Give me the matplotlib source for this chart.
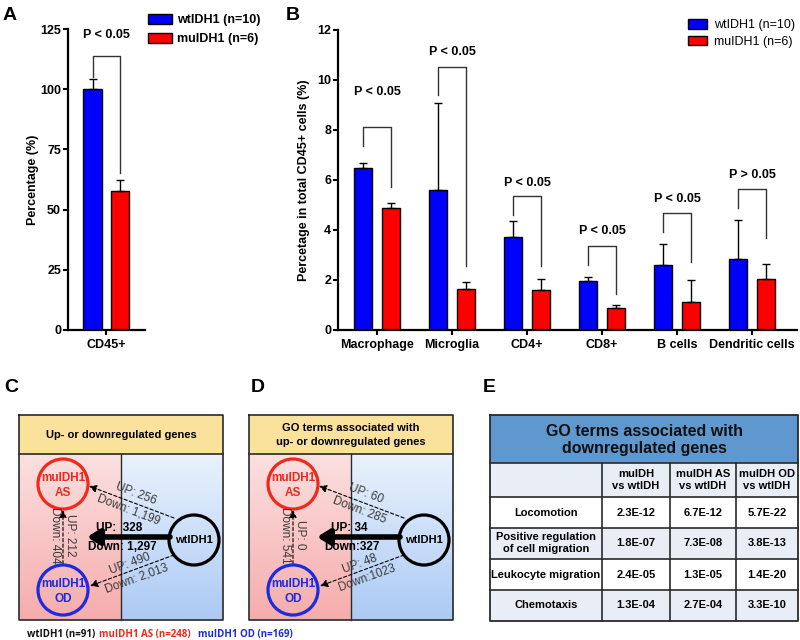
import numpy as np
import matplotlib.pyplot as plt
from matplotlib.patches import Rectangle, Circle, Patch

plt.rcParams['font.family'] = ['Liberation Sans', 'DejaVu Sans']
plt.rcParams['font.weight'] = 'bold'
plt.rcParams['axes.labelweight'] = 'bold'

BLUE = '#0000ff'
RED = '#ff0000'
GREY = '#333333'

# ---------------------------------------------------------------------------
# data
# ---------------------------------------------------------------------------
groups = ['wtIDH1 (n=10)', 'muIDH1 (n=6)']

# panel A: CD45+ percentage
a_mean = [100.0, 57.9]
a_err = [4.2, 4.3]
a_pval = 'P < 0.05'
a_bracket = [113.9, 105.0, 65.1, 122.6]      # top, left leg end, right leg end, text

# panel B: immune cell fractions
b_cells = ['Macrophage', 'Microglia', 'CD4+', 'CD8+', 'B cells', 'Dendritic cells']
b_wt = [6.47, 5.60, 3.73, 1.95, 2.59, 2.83]
b_wt_err = [0.22, 3.47, 0.62, 0.18, 0.84, 1.56]
b_mu = [4.88, 1.66, 1.61, 0.89, 1.13, 2.06]
b_mu_err = [0.19, 0.27, 0.42, 0.13, 0.86, 0.58]
b_pvals = ['P < 0.05', 'P < 0.05', 'P < 0.05', 'P < 0.05', 'P < 0.05', 'P > 0.05']
b_br_top = [8.11, 10.53, 5.36, 3.36, 4.69, 5.65]
b_br_left = [7.36, 9.40, 4.62, 2.60, 3.93, 4.89]
b_br_right = [5.73, 2.56, 2.56, 1.43, 2.74, 3.67]
b_txt = [9.53, 11.13, 5.86, 3.96, 5.26, 6.22]

# panels C / D: comparison diagrams (wt->AS, wt->mu, wt->OD, OD->AS)
c_header = ['Up- or downregulated genes']
c_labels = [('UP: 256', 'Down: 1,199'), ('UP:  328', 'Down: 1,297'),
            ('UP: 490', 'Down: 2,013'), ('UP: 212', 'Down: 404')]
d_header = ['GO terms associated with', 'up- or downregulated genes']
d_labels = [('UP: 60', 'Down: 285'), ('UP: 34', 'Down:327'),
            ('UP: 48', 'Down:1023'), ('UP: 0', 'Down: 541')]
cohorts = ['wtIDH1 (n=91)', 'muIDH1 AS (n=248)', 'muIDH1 OD (n=169)']

# panel E: GO term table
e_title = ['GO terms associated with', 'downregulated genes']
e_cols = ['muIDH\nvs wtIDH', 'muIDH AS\nvs wtIDH', 'muIDH OD\nvs wtIDH']
e_terms = ['Locomotion', 'Positive regulation\nof cell migration',
           'Leukocyte migration', 'Chemotaxis']
e_vals = [['2.3E-12', '6.7E-12', '5.7E-22'],
          ['1.8E-07', '7.3E-08', '3.8E-13'],
          ['2.4E-05', '1.3E-05', '1.4E-20'],
          ['1.3E-04', '2.7E-04', '3.3E-10']]

# ---------------------------------------------------------------------------
W, H = 800, 640
fig = plt.figure(figsize=(8, 6.4), dpi=100)


def px_axes(left, top, right, bottom):
    return fig.add_axes([left / W, 1 - bottom / H, (right - left) / W, (bottom - top) / H])


# overlay in pixel coordinates for letters and diagrams
ov = fig.add_axes([0, 0, 1, 1])
ov.set_xlim(0, W)
ov.set_ylim(H, 0)
ov.axis('off')


def style_axes(ax):
    for s in ['top', 'right']:
        ax.spines[s].set_visible(False)
    for s in ['left', 'bottom']:
        ax.spines[s].set_linewidth(1.6)
    ax.tick_params(direction='out', length=3.5, width=1.5, labelsize=9, pad=1.5)
    ax.tick_params(axis='x', pad=3)
    ax.set_facecolor('none')


# ---------------------------------------------------------------------------
# A
# ---------------------------------------------------------------------------
axA = px_axes(68, 29, 145, 330)
style_axes(axA)
xa = np.arange(2)
axA.bar(xa, a_mean, width=0.66, color=[BLUE, RED], edgecolor='k', linewidth=1, zorder=2)
axA.errorbar(xa, a_mean, yerr=[[0, 0], a_err], fmt='none', ecolor='k',
             elinewidth=1, capsize=3, capthick=1, zorder=3)
top, le, re, ty = a_bracket
axA.plot([0, 0, 1, 1], [le, top, top, re], color=GREY, lw=1)
axA.text(0.5, ty, a_pval, ha='center', va='center', fontsize=9)
axA.set_xlim(-0.885, 1.895)
axA.set_ylim(0, 125)
axA.set_yticks([0, 25, 50, 75, 100, 125])
axA.set_xticks([0.5])
axA.set_xticklabels(['CD45+'])
axA.set_ylabel('Percentage (%)', fontsize=9, labelpad=1)
handles = [Patch(facecolor=BLUE, edgecolor='k', lw=1), Patch(facecolor=RED, edgecolor='k', lw=1)]
fig.legend(handles, groups, loc='upper left', bbox_to_anchor=(148 / W, 1 - 14 / H),
           frameon=False, fontsize=9, handlelength=1.9, handleheight=0.8,
           handletextpad=0.4, labelspacing=0.55, borderaxespad=0, borderpad=0)

# ---------------------------------------------------------------------------
# B
# ---------------------------------------------------------------------------
axB = px_axes(338, 30, 797, 330)
style_axes(axB)
xb = np.arange(len(b_cells))
off, bw = 0.187, 0.247
axB.bar(xb - off, b_wt, width=bw, color=BLUE, edgecolor='k', linewidth=1, zorder=2)
axB.bar(xb + off, b_mu, width=bw, color=RED, edgecolor='k', linewidth=1, zorder=2)
axB.errorbar(xb - off, b_wt, yerr=[np.zeros(len(b_wt)), b_wt_err], fmt='none',
             ecolor='k', elinewidth=1, capsize=3, capthick=1, zorder=3)
axB.errorbar(xb + off, b_mu, yerr=[np.zeros(len(b_mu)), b_mu_err], fmt='none',
             ecolor='k', elinewidth=1, capsize=3, capthick=1, zorder=3)
for i in range(len(b_cells)):
    axB.plot([i - off, i - off, i + off, i + off],
             [b_br_left[i], b_br_top[i], b_br_top[i], b_br_right[i]], color=GREY, lw=1)
    axB.text(i, b_txt[i], b_pvals[i], ha='center', va='center', fontsize=9)
axB.set_xlim(-0.52, 5.6)
axB.set_ylim(0, 12)
axB.set_yticks(range(0, 13, 2))
axB.set_xticks(xb)
axB.set_xticklabels(b_cells)
axB.set_ylabel('Percetage in total CD45+ cells (%)', fontsize=9, labelpad=5)
fig.legend(handles, groups, loc='upper left', bbox_to_anchor=(688 / W, 1 - 19 / H),
           frameon=False, prop={'size': 9, 'weight': 'normal'}, handlelength=1.5,
           handleheight=0.8, handletextpad=0.6, labelspacing=0.35,
           borderaxespad=0, borderpad=0)

# ---------------------------------------------------------------------------
# panel letters
# ---------------------------------------------------------------------------
for letter, (lx, ly) in {'A': (3, 15), 'B': (286, 15), 'C': (4, 388),
                         'D': (251, 388), 'E': (483, 388)}.items():
    ov.text(lx, ly, letter, fontsize=14, ha='left', va='center')


# ---------------------------------------------------------------------------
# C / D diagrams
# ---------------------------------------------------------------------------
def gradient(x0, x1, y0, y1, c_top, c_bot):
    t = np.linspace(0, 1, 64)[:, None, None]
    img = (1 - t) * np.array(c_top)[None, None, :] + t * np.array(c_bot)[None, None, :]
    ov.imshow(img / 255, extent=(x0, x1, y1, y0), origin='upper', aspect='auto',
              interpolation='bilinear', zorder=1)


def diagram(L, header, labels):
    top, hb, bot = 415, 454, 620
    R, D = L + 204, L + 102
    gradient(L, D, hb, bot, (251, 224, 224), (246, 172, 172))
    gradient(D, R, hb, bot, (233, 242, 253), (172, 202, 244))
    ov.add_patch(Rectangle((L, top), 204, hb - top, facecolor='#fae29c', edgecolor='none', zorder=1))
    ov.plot([L, R, R, L, L], [top, top, bot, bot, top], color='#2a2a2a', lw=1.2, zorder=2)
    ov.plot([L, R], [hb, hb], color='#2a2a2a', lw=1.2, zorder=2)
    ov.plot([D, D], [hb, bot], color='#2a2a2a', lw=1.0, zorder=2)
    if len(header) == 1:
        ov.text(L + 102, 435, header[0], ha='center', va='center', fontsize=8, zorder=5)
    else:
        ov.text(L + 102, 428, header[0], ha='center', va='center', fontsize=8, zorder=5)
        ov.text(L + 102, 442, header[1], ha='center', va='center', fontsize=8, zorder=5)

    # circles
    for (cx, cy), col, names in [((L + 44, 484), '#ee2a1c', ('muIDH1', 'AS')),
                                 ((L + 44, 590), '#1c2ae0', ('muIDH1', 'OD'))]:
        ov.add_patch(Circle((cx, cy), 25, facecolor='none', edgecolor=col, lw=2.3, zorder=4))
        ov.text(cx, cy - 6, names[0], color=col, ha='center', va='center', fontsize=8.5, zorder=5)
        ov.text(cx, cy + 9, names[1], color=col, ha='center', va='center', fontsize=8.5, zorder=5)
    ov.add_patch(Circle((L + 175, 540), 25, facecolor='none', edgecolor='k', lw=2.3, zorder=4))
    ov.text(L + 175, 540, 'wtIDH1', ha='center', va='center', fontsize=8, zorder=5)

    # arrows
    thin = dict(arrowstyle='-|>,head_length=0.45,head_width=0.22', lw=0.8,
                linestyle=(0, (3, 2)), color='k', shrinkA=0, shrinkB=0, mutation_scale=10)
    ov.annotate('', xy=(L + 70, 486), xytext=(L + 155, 518), arrowprops=thin, zorder=3)
    ov.annotate('', xy=(L + 71, 586), xytext=(L + 155, 555), arrowprops=thin, zorder=3)
    ov.annotate('', xy=(L + 44, 510), xytext=(L + 44, 564), arrowprops=thin, zorder=3)
    ov.annotate('', xy=(L + 68, 537), xytext=(L + 151, 537),
                arrowprops=dict(arrowstyle='-|>,head_length=0.45,head_width=0.28', lw=4,
                                color='k', shrinkA=0, shrinkB=0, mutation_scale=16), zorder=3)

    # labels
    lab = dict(ha='center', va='center', fontsize=8.5, fontweight='normal',
               color='#3a3a3a', rotation_mode='anchor', zorder=5)
    ov.text(L + 117, 494, labels[0][0], rotation=-21, **lab)
    ov.text(L + 110, 510, labels[0][1], rotation=-21, **lab)
    ov.text(L + 111, 564, labels[2][0], rotation=20, **lab)
    ov.text(L + 118, 578, labels[2][1], rotation=20, **lab)
    ov.text(L + 51, 535, labels[3][0], rotation=-90, **lab)
    ov.text(L + 36, 535, labels[3][1], rotation=-90, **lab)
    ov.text(L + 100, 528, labels[1][0], ha='center', va='center', fontsize=8.5, zorder=5)
    ov.text(L + 103, 547, labels[1][1], ha='center', va='center', fontsize=8.5, zorder=5)


diagram(19, c_header, c_labels)
diagram(249, d_header, d_labels)

for name, x, col in zip(cohorts, [27, 99, 198], ['#111111', '#ee2a1c', '#1c2ae0']):
    ov.text(x, 635, name, color=col, ha='left', va='center', fontsize=7,
            family=['Open Sans', 'DejaVu Sans'])

# ---------------------------------------------------------------------------
# E table
# ---------------------------------------------------------------------------
ex = [490, 602, 670, 736, 798]
ey = [415, 463, 497, 528, 559, 590, 621]
ov.add_patch(Rectangle((ex[0], ey[0]), ex[-1] - ex[0], ey[1] - ey[0],
                       facecolor='#5f97cf', edgecolor='none', zorder=1))
for r in range(5):
    fc = '#e9edf5' if r % 2 == 0 else 'white'
    ov.add_patch(Rectangle((ex[0], ey[r + 1]), ex[-1] - ex[0], ey[r + 2] - ey[r + 1],
                           facecolor=fc, edgecolor='none', zorder=1))
ov.text((ex[0] + ex[-1]) / 2, 431, e_title[0], ha='center', va='center', fontsize=11.5,
        color='#111111', zorder=5)
ov.text((ex[0] + ex[-1]) / 2, 449, e_title[1], ha='center', va='center', fontsize=11.5,
        color='#111111', zorder=5)
lc = '#2a2a2a'
ov.plot([ex[0], ex[-1], ex[-1], ex[0], ex[0]], [ey[0], ey[0], ey[-1], ey[-1], ey[0]],
        color=lc, lw=1.3, zorder=3)
for y in ey[1:-1]:
    ov.plot([ex[0], ex[-1]], [y, y], color=lc, lw=1.2, zorder=3)
for x in ex[1:-1]:
    ov.plot([x, x], [ey[1], ey[-1]], color=lc, lw=1.2, zorder=3)


def cell_center(r, c):
    return (ex[c] + ex[c + 1]) / 2, (ey[r + 1] + ey[r + 2]) / 2


for c, txt in enumerate(e_cols):
    x, y = cell_center(0, c + 1)
    ov.text(x, y, txt, ha='center', va='center', fontsize=8, linespacing=1.25, zorder=5)
for r, term in enumerate(e_terms):
    x, y = cell_center(r + 1, 0)
    ov.text(x, y, term, ha='center', va='center', fontsize=8, linespacing=1.25, zorder=5)
    for c, v in enumerate(e_vals[r]):
        x, y = cell_center(r + 1, c + 1)
        ov.text(x, y, v, ha='center', va='center', fontsize=8, zorder=5)

fig.savefig('out.png', dpi=100)
